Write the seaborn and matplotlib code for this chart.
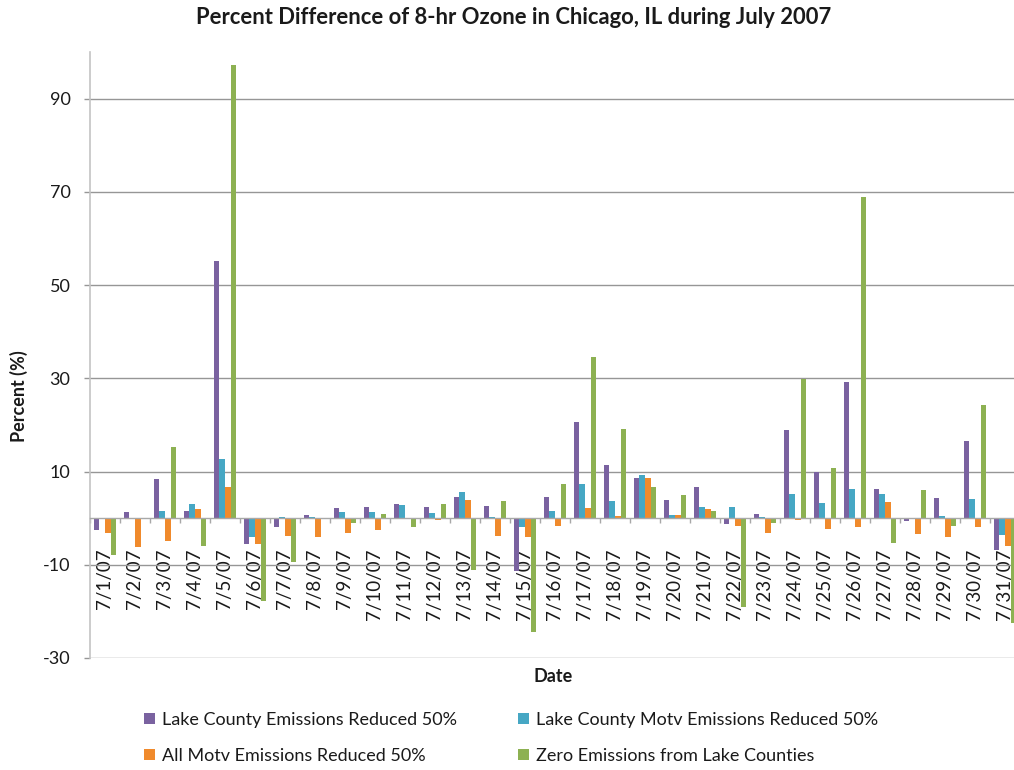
import matplotlib
matplotlib.use("Agg")
import matplotlib.pyplot as plt
from matplotlib.patches import Patch
from matplotlib.ticker import FixedLocator
import numpy as np
import pandas as pd
import seaborn as sns

# Daily dates for July 2007
dates = [f"7/{d}/07" for d in range(1, 32)]

lake_county_50 = [-2.5, 1.4, 8.3, 1.6, 55.2, -5.5, -2.0, 0.6, 2.1, 2.4,
                  3.1, 2.5, 4.5, 2.7, -11.4, 4.6, 20.6, 11.4, 8.6, 4.0,
                  6.6, -1.2, 0.9, 18.9, 9.9, 29.2, 6.2, -0.7, 4.4, 16.6, -6.9]
lake_motv_50 = [-0.1, 0.1, 1.6, 3.0, 12.6, -4.1, 0.35, 0.35, 1.3, 1.3,
                2.8, 1.0, 5.7, 0.2, -1.8, 1.6, 7.3, 3.6, 9.2, 0.6,
                2.4, 2.4, 0.2, 5.1, 3.2, 6.2, 5.2, 0.1, 0.5, 4.2, -3.6]
all_motv_50 = [-3.2, -6.1, -4.9, 1.9, 6.6, -5.6, -3.8, -4.1, -3.2, -2.5,
               -0.1, -0.5, 3.8, -3.8, -4.1, -1.6, 2.1, 0.5, 8.6, 0.6,
               1.9, -1.6, -3.2, -0.4, -2.3, -1.9, 3.4, -3.4, -4.1, -1.9, -6.0]
zero_lake = [-7.9, 0.1, 15.2, -5.9, 97.2, -17.7, -9.5, -0.2, -1.1, 0.9,
             -2.0, 3.0, -11.1, 3.6, -24.5, 7.4, 34.5, 19.2, 6.6, 5.0,
             1.6, -19.0, -1.1, 29.8, 10.7, 68.8, -5.4, 6.1, -1.6, 24.3, -22.4]

series_names = ["Lake County Emissions Reduced 50%",
                "Lake County Motv Emissions Reduced 50%",
                "All Motv Emissions Reduced 50%",
                "Zero Emissions from Lake Counties"]
series_values = [lake_county_50, lake_motv_50, all_motv_50, zero_lake]
colors = ["#7A62A0", "#46A7C4", "#F08A2C", "#8DB152"]

df = pd.DataFrame({
    "Date": np.tile(dates, len(series_names)),
    "Percent": np.concatenate(series_values),
    "Scenario": np.repeat(series_names, len(dates)),
})

sns.set_theme(style="white")
plt.rcParams["font.family"] = ["Lato", "DejaVu Sans"]
plt.rcParams["axes.unicode_minus"] = False

W, H = 1014, 770
fig = plt.figure(figsize=(W / 100, H / 100), dpi=100)
# plot area runs slightly past the right edge of the canvas
ax = fig.add_axes([90 / W, (H - 658) / H, 930 / W, 606 / H])

sns.barplot(data=df, x="Date", y="Percent", hue="Scenario",
            hue_order=series_names, palette=colors, width=0.75,
            linewidth=0, saturation=1, legend=False, ax=ax)

ax.set_ylim(-30, 100)
ax.set_xlim(-0.5, len(dates) - 0.5)
ax.set_axisbelow(True)

grid_col = "#969696"
ax.yaxis.set_major_locator(FixedLocator([-30, -10, 10, 30, 50, 70, 90]))
ax.yaxis.grid(True, color=grid_col, linewidth=1.0)
ax.xaxis.grid(False)
ax.tick_params(axis="y", which="major", left=True, length=4, width=1,
               color=grid_col, pad=10, labelsize=13, labelcolor="#1a1a1a")

# category axis sits at zero
for s in ["top", "right"]:
    ax.spines[s].set_visible(False)
ax.spines["left"].set_color("#c4c4c4")
ax.spines["left"].set_linewidth(1.2)
ax.spines["bottom"].set_position(("data", 0))
ax.spines["bottom"].set_color("#a8a8a8")
ax.spines["bottom"].set_linewidth(1.0)

ax.set_xticks(range(len(dates)))
ax.set_xticklabels(dates, rotation=90, ha="center", va="top")
ax.xaxis.set_minor_locator(FixedLocator(np.arange(-0.5, len(dates), 1.0)))
ax.tick_params(axis="x", which="major", bottom=True, length=0, pad=22,
               labelsize=13.5, labelcolor="#1a1a1a")
ax.tick_params(axis="x", which="minor", bottom=True, length=3.5, width=1,
               color="#a8a8a8", direction="out")

ax.set_xlabel("")
ax.set_ylabel("")

fig.text(514 / W, 1 - 18 / H,
         "Percent Difference of 8-hr Ozone in Chicago, IL during July 2007",
         ha="center", va="center", fontsize=15.8, fontweight="bold",
         color="#1a1a1a")
fig.text(19 / W, 1 - 396 / H, "Percent (%)", rotation=90, ha="center",
         va="center", fontsize=13, fontweight="bold", color="#1a1a1a")
fig.text(553 / W, 1 - 677 / H, "Date", ha="center", va="center",
         fontsize=13, fontweight="bold", color="#1a1a1a")

order = [0, 2, 1, 3]
handles = [Patch(facecolor=colors[i], edgecolor="none") for i in order]
labels = [series_names[i] for i in order]
fig.legend(handles, labels, ncol=2, loc="center left",
           bbox_to_anchor=(128 / W, 1 - 738 / H), frameon=False,
           fontsize=13, handlelength=0.6, handleheight=0.6,
           handletextpad=0.4, columnspacing=3.35, labelspacing=1.1,
           labelcolor="#1a1a1a")

fig.savefig("out.png", dpi=100)
